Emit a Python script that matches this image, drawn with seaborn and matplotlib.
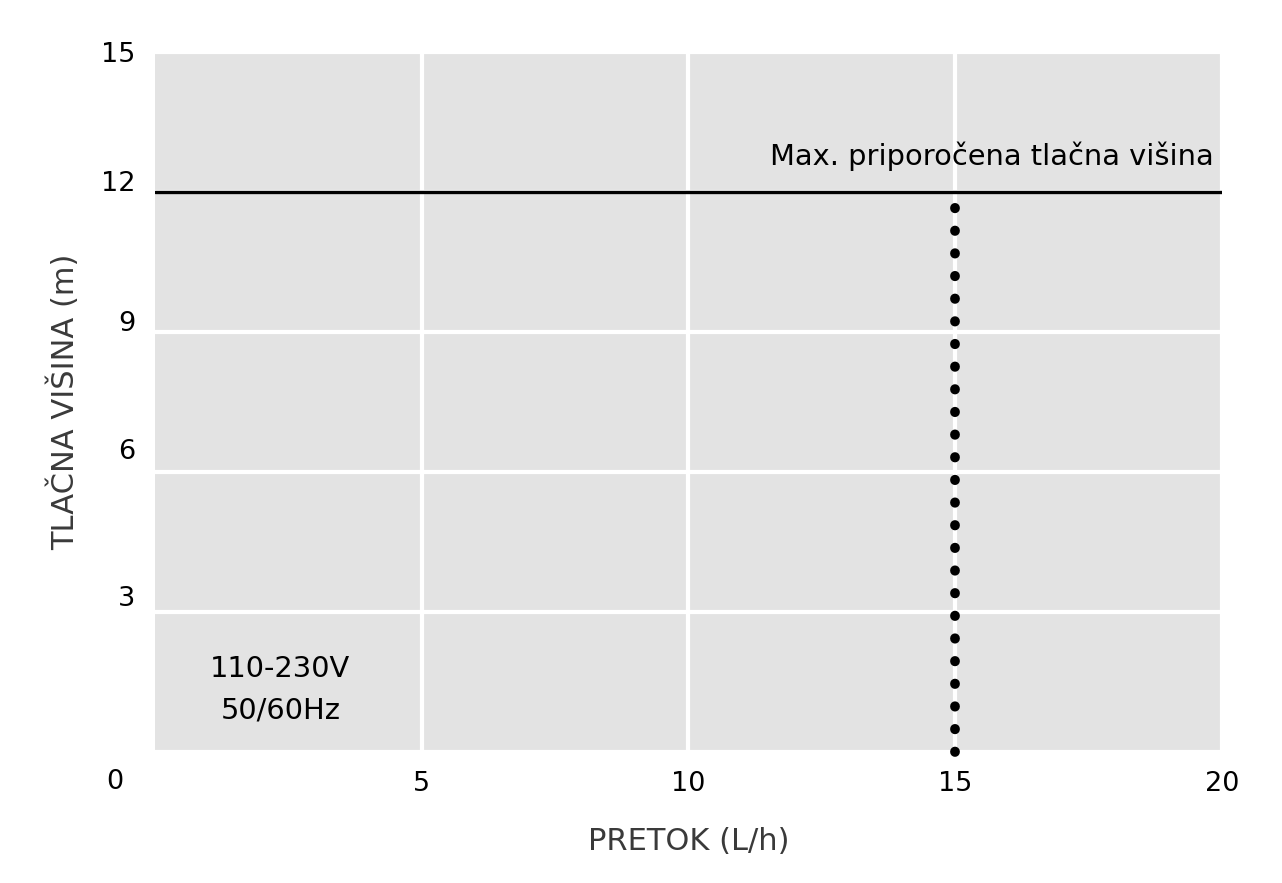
import matplotlib
matplotlib.use('Agg')
import matplotlib.pyplot as plt
import matplotlib.transforms as mtrans
import seaborn as sns
import pandas as pd

# data
max_flow = [0, 20]
max_head = [12, 12]
dot_flow = [15, 15]
dot_head = [0, 12]
x_ticks = [5, 10, 15, 20]
y_ticks = [0, 3, 6, 9, 12, 15]
y_labels = ['0', '3', '6', '9', '12', '15']
max_label = 'Max. priporočena tlačna višina'
volt_label = '110-230V\n50/60Hz'

sns.set_style('darkgrid', {'axes.facecolor': '#e3e3e3', 'grid.color': 'white'})
plt.rcParams['font.family'] = ['DejaVu Sans']

fig = plt.figure(figsize=(12.82, 8.83), dpi=100)
ax = fig.add_axes([0.1209, 0.1484, 0.8323, 0.7927])

sns.lineplot(x=max_flow, y=max_head, ax=ax, color='black', linewidth=2.4, zorder=3)
# vertical dotted line: no aggregation, keep order
sns.lineplot(x=dot_flow, y=dot_head, ax=ax, color='black', zorder=3,
             estimator=None, sort=False)
ln = ax.lines[-1]
ln.set_linewidth(7)
ln.set_linestyle((0, (0.05, 2.28)))
ln.set_dash_capstyle('round')
ln.set_clip_on(False)

ax.set_xlim(0, 20)
ax.set_ylim(0, 15)
ax.set_xticks(x_ticks)
ax.set_yticks(y_ticks)
ax.set_yticklabels(y_labels)
ax.grid(True, linewidth=3, color='white')
for s in ax.spines.values():
    s.set_visible(False)
ax.tick_params(axis='both', length=0, labelsize=19.5, labelcolor='black')
ax.tick_params(axis='x', pad=14)
ax.tick_params(axis='y', pad=14)

# shift y tick labels as in the original
shifts = {'0': (-12, -27), '3': (0, 16), '6': (0, 23), '9': (0, 11), '12': (0, 11), '15': (0, 0)}
for lab in ax.get_yticklabels():
    dx, dy = shifts.get(lab.get_text(), (0, 0))
    lab.set_transform(lab.get_transform() + mtrans.ScaledTranslation(dx / 100, dy / 100, fig.dpi_scale_trans))

ax.set_xlabel('PRETOK (L/h)', fontsize=22, color='#3a3a3a', labelpad=21)
ax.set_ylabel('TLAČNA VIŠINA (m)', fontsize=22, color='#3a3a3a', labelpad=15)

ax.text(0.992, 12.45, max_label, ha='right', va='bottom', fontsize=20.8, color='black',
        transform=ax.get_yaxis_transform())
ax.text(2.35, 1.33, volt_label, ha='center', va='center', fontsize=20.8, color='black',
        linespacing=1.6)

fig.savefig('out.png', dpi=100)
